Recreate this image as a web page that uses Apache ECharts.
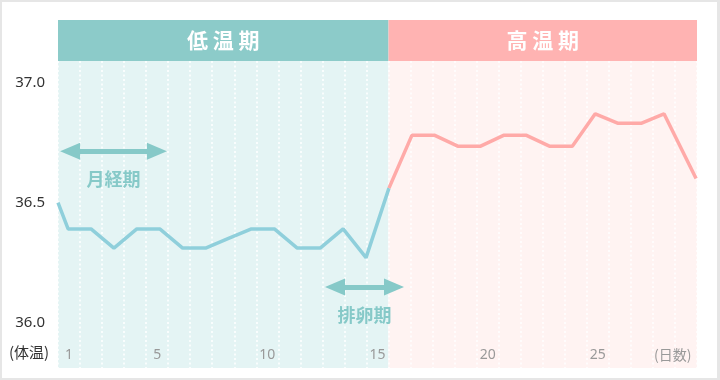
<!DOCTYPE html>
<html>
<head>
<meta charset="utf-8">
<script src="https://cdn.jsdelivr.net/npm/echarts@6/dist/echarts.min.js"></script>
<style>
  html, body { margin: 0; padding: 0; background: #fff; }
  #wrap { position: relative; width: 720px; height: 380px; }
  #main { width: 720px; height: 380px; }
  #frame { position: absolute; left: 0; top: 0; width: 720px; height: 380px; box-sizing: border-box;
           border: 2px solid #e6e6e6; border-right-width: 3px; pointer-events: none; }
</style>
</head>
<body>
<div id="wrap"><div id="main"></div><div id="frame"></div></div>
<script>
  // days on the bottom axis
  const days = ['1','2','3','4','5','6','7','8','9','10','11','12','13','14','15',
                '16','17','18','19','20','21','22','23','24','25','26','27','28','29'];
  const dayTicks = ['1', '5', '10', '15', '20', '25'];
  const tempTicks = [36.0, 36.5, 37.0];

  // body temperature, low phase then high phase (they share the turning point)
  const lowSteps = [-0.44, 0, 1, 2, 3, 4, 5, 6, 7, 8, 9, 10, 11, 12, 13, 14];
  const lowTemps = [36.50, 36.39, 36.39, 36.31, 36.39, 36.39, 36.31, 36.31, 36.35,
                    36.39, 36.39, 36.31, 36.31, 36.39, 36.27, 36.56];
  const highSteps = [14, 15, 16, 17, 18, 19, 20, 21, 22, 23, 24, 25, 26, 27.4];
  const highTemps = [36.56, 36.78, 36.78, 36.735, 36.735, 36.78, 36.78, 36.735, 36.735,
                     36.87, 36.83, 36.83, 36.87, 36.60];

  const phases = ['低 温 期', '高 温 期'];
  const phaseEdges = [0, 15, 29];
  const periods = ['月経期', '排卵期'];
  const periodFrom = [0.55, 12.57];
  const periodTo = [4.49, 15.25];
  const periodTemp = [36.714, 36.148];

  const yMin = 35.81, yMax = 37.09;
  const lineMin = -0.44, lineMax = 27.44;

  const font = "'Noto Sans', 'Noto Sans CJK JP', sans-serif";
  const cjk = "'Noto Sans CJK JP', sans-serif";

  let myChart = echarts.init(document.getElementById('main'));

  myChart.setOption({
    animation: false,
    textStyle: { fontFamily: font },
    grid: [
      { left: 58, right: 23, top: 20, height: 41 },
      { left: 58, right: 23, top: 61, bottom: 12 }
    ],
    xAxis: [
      { gridIndex: 0, type: 'value', min: 0, max: 29, show: false },
      {
        gridIndex: 1, type: 'category', data: days, boundaryGap: true, z: 3,
        axisLine: { show: false }, axisTick: { show: false },
        splitLine: { show: true, interval: 0, lineStyle: { color: '#fff', type: [2, 2.5], width: 1.5 } },
        axisLabel: {
          inside: true, interval: 0, margin: 6, color: '#999', fontSize: 14,
          formatter: v => dayTicks.includes(v) ? v : ''
        }
      },
      { gridIndex: 1, type: 'value', min: lineMin, max: lineMax, show: false },
      { gridIndex: 1, type: 'value', min: 0, max: 29, show: false }
    ],
    yAxis: [
      { gridIndex: 0, type: 'value', min: 0, max: 1, show: false },
      {
        gridIndex: 1, type: 'value', min: yMin, max: yMax, z: 3,
        axisLine: { show: false }, axisTick: { show: false }, splitLine: { show: false },
        axisLabel: {
          customValues: tempTicks, formatter: v => v.toFixed(1),
          color: '#333', fontSize: 15, margin: 13
        }
      }
    ],
    graphic: [
      { type: 'text', z: 10, style: { text: '(体温)', x: 9, y: 352, verticalAlign: 'middle', fill: '#333', fontSize: 15, fontFamily: cjk } },
      { type: 'text', z: 10, style: { text: '(日数)', x: 654, y: 355, verticalAlign: 'middle', fill: '#999', fontSize: 14, fontFamily: cjk } }
    ],
    series: [
      {
        // header band
        type: 'line', xAxisIndex: 0, yAxisIndex: 0, data: [],
        markArea: {
          silent: true,
          label: { show: true, position: 'inside', color: '#fff', fontSize: 21, fontWeight: 'bold', fontFamily: cjk },
          data: [
            [{ name: phases[0], xAxis: phaseEdges[0], itemStyle: { color: '#8ccbc9' } }, { xAxis: phaseEdges[1] }],
            [{ name: phases[1], xAxis: phaseEdges[1], itemStyle: { color: '#ffb3b2' } }, { xAxis: phaseEdges[2] }]
          ]
        }
      },
      {
        // plot background
        type: 'line', xAxisIndex: 3, yAxisIndex: 1, data: [], z: 1,
        markArea: {
          silent: true, label: { show: false },
          data: [
            [{ xAxis: phaseEdges[0], itemStyle: { color: '#e4f4f4' } }, { xAxis: phaseEdges[1] }],
            [{ xAxis: phaseEdges[1], itemStyle: { color: '#fff3f2' } }, { xAxis: phaseEdges[2] }]
          ]
        }
      },
      {
        // period arrows
        type: 'line', xAxisIndex: 3, yAxisIndex: 1, data: [], z: 4,
        markLine: {
          silent: true,
          symbol: ['triangle', 'triangle'],
          symbolSize: [17, 20],
          lineStyle: { color: '#86c9c8', width: 5, type: 'solid' },
          itemStyle: { color: '#86c9c8' },
          label: {
            show: true, position: 'insideMiddleBottom', distance: 19,
            color: '#86c9c8', fontSize: 18, fontWeight: 'bold', fontFamily: cjk,
            formatter: p => p.name
          },
          data: periods.map((name, i) => [
            { name: name, coord: [periodFrom[i], periodTemp[i]] },
            { coord: [periodTo[i], periodTemp[i]] }
          ])
        }
      },
      {
        type: 'line', xAxisIndex: 2, yAxisIndex: 1, z: 5,
        data: lowSteps.map((s, i) => [s, lowTemps[i]]),
        symbol: 'none', clip: true,
        lineStyle: { color: '#8fcfdb', width: 3.5 }
      },
      {
        type: 'line', xAxisIndex: 2, yAxisIndex: 1, z: 5,
        data: highSteps.map((s, i) => [s, highTemps[i]]),
        symbol: 'none', clip: true,
        lineStyle: { color: '#ffaaa8', width: 3.5 }
      }
    ]
  });
</script>
</body>
</html>
